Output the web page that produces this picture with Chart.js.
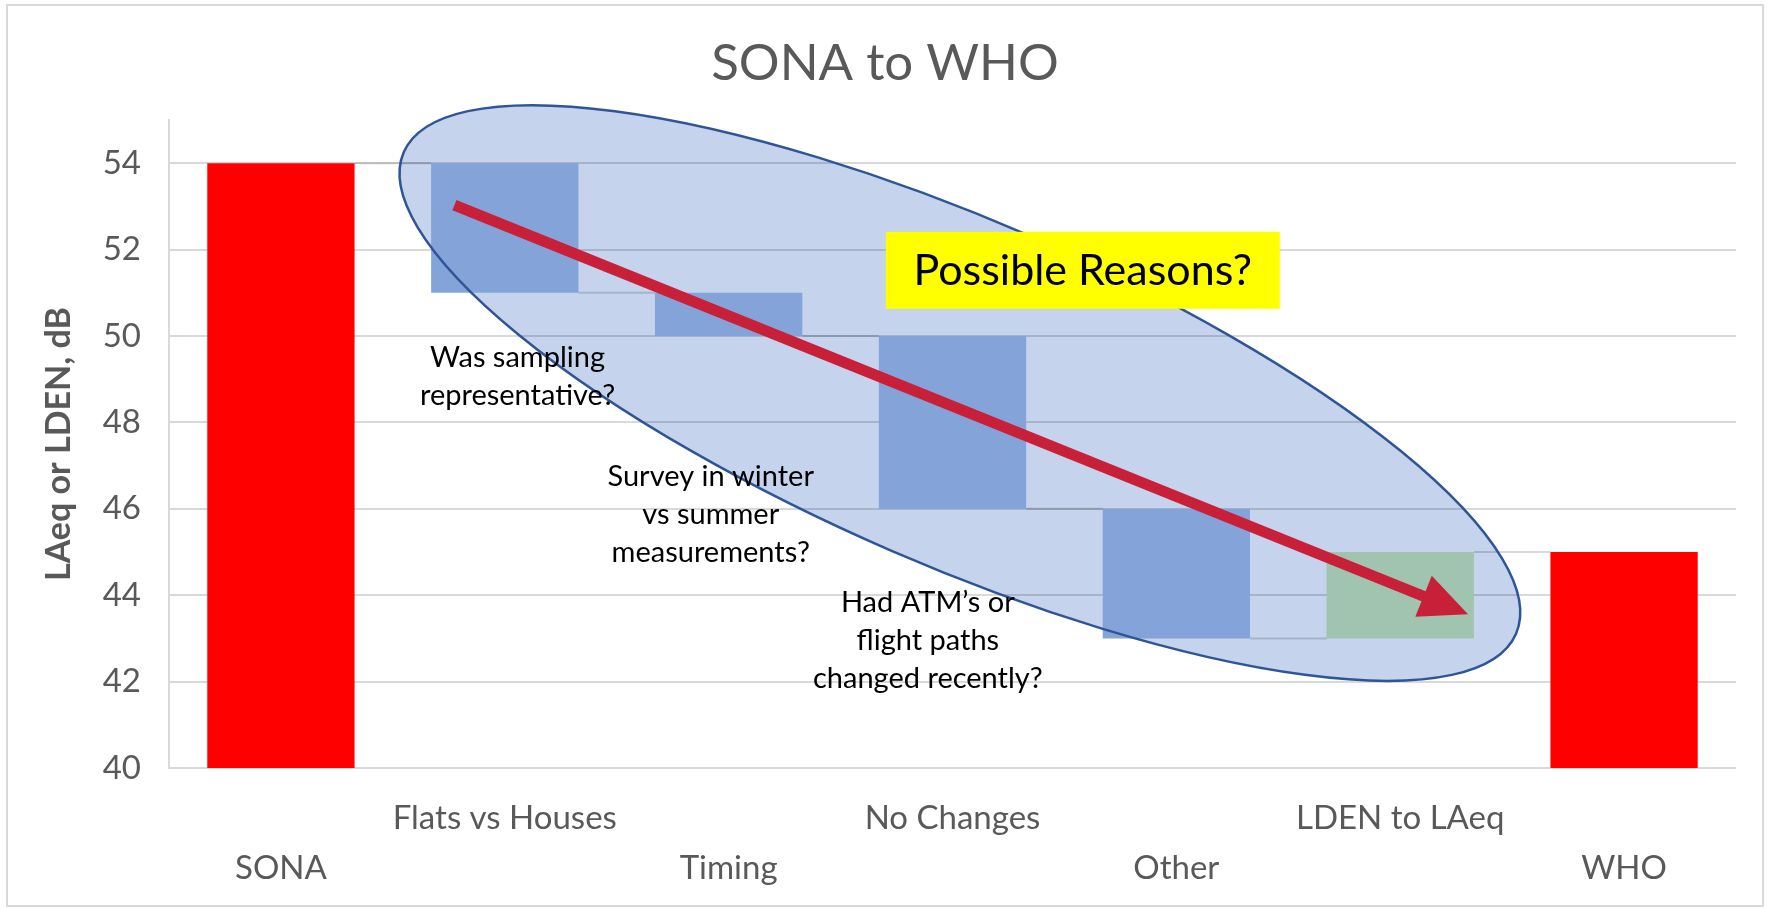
<!DOCTYPE html>
<html>
<head>
<meta charset="utf-8">
<script src="https://cdn.jsdelivr.net/npm/chart.js@4.4.1/dist/chart.umd.min.js"></script>
<style>
  html, body { margin: 0; padding: 0; background: #ffffff; }
  #wrap { width: 1770px; height: 908px; position: relative; }
</style>
</head>
<body>
<div id="wrap"><canvas id="c" width="1770" height="908"></canvas></div>
<script>
// ---- data ----
const categories = ['SONA', 'Flats vs Houses', 'Timing', 'No Changes', 'Other', 'LDEN to LAeq', 'WHO'];
const barStart   = [40, 51, 50, 46, 43, 43, 40];
const barEnd     = [54, 54, 51, 50, 46, 45, 45];
const barColors  = ['#FF0000', '#84A3D8', '#84A3D8', '#84A3D8', '#84A3D8', '#A1C4B0', '#FF0000'];
const yTicks     = [40, 42, 44, 46, 48, 50, 52, 54];
const chartTitle = 'SONA to WHO';
const yAxisTitle = 'LAeq or LDEN, dB';
const calloutText = 'Possible Reasons?';
const noteTexts = [
  ['Was sampling', 'representative?'],
  ['Survey in winter', 'vs summer', 'measurements?'],
  ['Had ATM\u2019s or', 'flight paths', 'changed recently?']
];

// ---- annotation layout (anchored in category-index / dB units) ----
const FONT = 'Lato, "Open Sans", sans-serif';
const annotLayout = {
  ellipse: { x: 3.033, y: 48.68, a: 606, b: 172, angleDeg: 23.4 },
  arrow: { from: [0.775, 53.03], to: [5.303, 43.56], width: 11, headLen: 48, headHalf: 22 },
  box: { x: 3.582, y: 51.52, w: 394, h: 77 },
  notes: [[1.057, 49.49], [1.920, 46.74], [2.890, 43.82]],
  noteLine: 38
};

const annotPlugin = {
  id: 'annot',
  beforeDraw(chart) {
    const ctx = chart.ctx;
    ctx.save();
    ctx.strokeStyle = '#D9D9D9';
    ctx.lineWidth = 2;
    ctx.strokeRect(7, 5, 1756, 901);
    const e = annotLayout.ellipse;
    const cx = chart.scales.x.getPixelForValue(e.x);
    const cy = chart.scales.y.getPixelForValue(e.y);
    ctx.beginPath();
    ctx.ellipse(cx, cy, e.a, e.b, e.angleDeg * Math.PI / 180, 0, Math.PI * 2);
    ctx.fillStyle = 'rgba(68,114,196,0.31)';
    ctx.fill();
    ctx.restore();
  },
  afterDatasetsDraw(chart) {
    const ctx = chart.ctx;
    const xs = chart.scales.x, ys = chart.scales.y;
    const meta = chart.getDatasetMeta(0);
    ctx.save();
    // connectors between consecutive bars
    ctx.strokeStyle = 'rgba(0,0,0,0.15)';
    ctx.lineWidth = 2;
    for (let i = 0; i < categories.length - 1; i++) {
      const a = [barStart[i], barEnd[i]], b = [barStart[i + 1], barEnd[i + 1]];
      let level = null;
      for (const v of a) if (b.includes(v)) level = v;
      if (level === null) continue;
      const e1 = meta.data[i], e2 = meta.data[i + 1];
      const y = ys.getPixelForValue(level);
      ctx.beginPath();
      ctx.moveTo(e1.x + e1.width / 2, y);
      ctx.lineTo(e2.x - e2.width / 2, y);
      ctx.stroke();
    }
    // ellipse outline
    const e = annotLayout.ellipse;
    ctx.beginPath();
    ctx.ellipse(xs.getPixelForValue(e.x), ys.getPixelForValue(e.y), e.a, e.b, e.angleDeg * Math.PI / 180, 0, Math.PI * 2);
    ctx.strokeStyle = '#2F5597';
    ctx.lineWidth = 2.5;
    ctx.stroke();
    // notes
    ctx.fillStyle = '#000000';
    ctx.font = '29px ' + FONT;
    ctx.textAlign = 'center';
    ctx.textBaseline = 'middle';
    noteTexts.forEach((lines, k) => {
      const p = annotLayout.notes[k];
      const x = xs.getPixelForValue(p[0]);
      const y0 = ys.getPixelForValue(p[1]);
      lines.forEach((t, j) => ctx.fillText(t, x, y0 + j * annotLayout.noteLine));
    });
    // callout box
    const bx = annotLayout.box;
    const bcx = xs.getPixelForValue(bx.x), bcy = ys.getPixelForValue(bx.y);
    ctx.fillStyle = '#FFFF00';
    ctx.fillRect(bcx - bx.w / 2, bcy - bx.h / 2, bx.w, bx.h);
    ctx.fillStyle = '#000000';
    ctx.font = '43px ' + FONT;
    ctx.fillText(calloutText, bcx, bcy + 1);
    // arrow
    const ar = annotLayout.arrow;
    const x1 = xs.getPixelForValue(ar.from[0]), y1 = ys.getPixelForValue(ar.from[1]);
    const x2 = xs.getPixelForValue(ar.to[0]), y2 = ys.getPixelForValue(ar.to[1]);
    const len = Math.hypot(x2 - x1, y2 - y1);
    const ux = (x2 - x1) / len, uy = (y2 - y1) / len;
    const bxp = x2 - ux * ar.headLen, byp = y2 - uy * ar.headLen;
    ctx.strokeStyle = '#C9203A';
    ctx.fillStyle = '#C9203A';
    ctx.lineWidth = ar.width;
    ctx.lineCap = 'butt';
    ctx.beginPath();
    ctx.moveTo(x1, y1);
    ctx.lineTo(bxp + ux * 2, byp + uy * 2);
    ctx.stroke();
    ctx.beginPath();
    ctx.moveTo(x2, y2);
    ctx.lineTo(bxp - uy * ar.headHalf, byp + ux * ar.headHalf);
    ctx.lineTo(bxp + uy * ar.headHalf, byp - ux * ar.headHalf);
    ctx.closePath();
    ctx.fill();
    ctx.restore();
  }
};

new Chart(document.getElementById('c').getContext('2d'), {
  type: 'bar',
  data: {
    labels: categories,
    datasets: [{
      data: categories.map((c, i) => [barStart[i], barEnd[i]]),
      backgroundColor: barColors,
      borderWidth: 0,
      barPercentage: 0.658,
      categoryPercentage: 1
    }]
  },
  options: {
    responsive: false,
    animation: false,
    devicePixelRatio: 1,
    layout: { padding: { left: 34, right: 34, top: 0, bottom: 0 } },
    plugins: {
      legend: { display: false },
      tooltip: { enabled: false },
      title: {
        display: true,
        text: chartTitle,
        color: '#595959',
        font: { family: FONT, size: 51, weight: 'normal', lineHeight: 1.2 },
        padding: { top: 33, bottom: 25.8 }
      }
    },
    scales: {
      x: {
        grid: { display: false },
        border: { display: false },
        ticks: {
          autoSkip: false, maxRotation: 0, minRotation: 0, padding: 17,
          color: '#595959',
          font: { family: FONT, size: 33, lineHeight: '50px' },
          callback: (v, i) => (i % 2 ? [categories[i], ''] : ['', categories[i]])
        },
        afterFit: (s) => { s.height = 140; }
      },
      y: {
        min: 40, max: 55,
        ticks: { stepSize: 2, padding: 28, color: '#595959', font: { family: FONT, size: 33 } },
        afterBuildTicks: (s) => { s.ticks = yTicks.map(v => ({ value: v })); },
        grid: { color: 'rgba(0,0,0,0.15)', lineWidth: 2, drawTicks: false },
        border: { display: true, color: 'rgba(0,0,0,0.15)', width: 2 },
        title: {
          display: true, text: yAxisTitle, color: '#595959',
          font: { family: FONT, size: 34, weight: 'bold', lineHeight: 1.2 },
          padding: { top: 5, bottom: 0 }
        },
        afterFit: (s) => { s.width = 135; }
      }
    }
  },
  plugins: [annotPlugin]
});
</script>
</body>
</html>
